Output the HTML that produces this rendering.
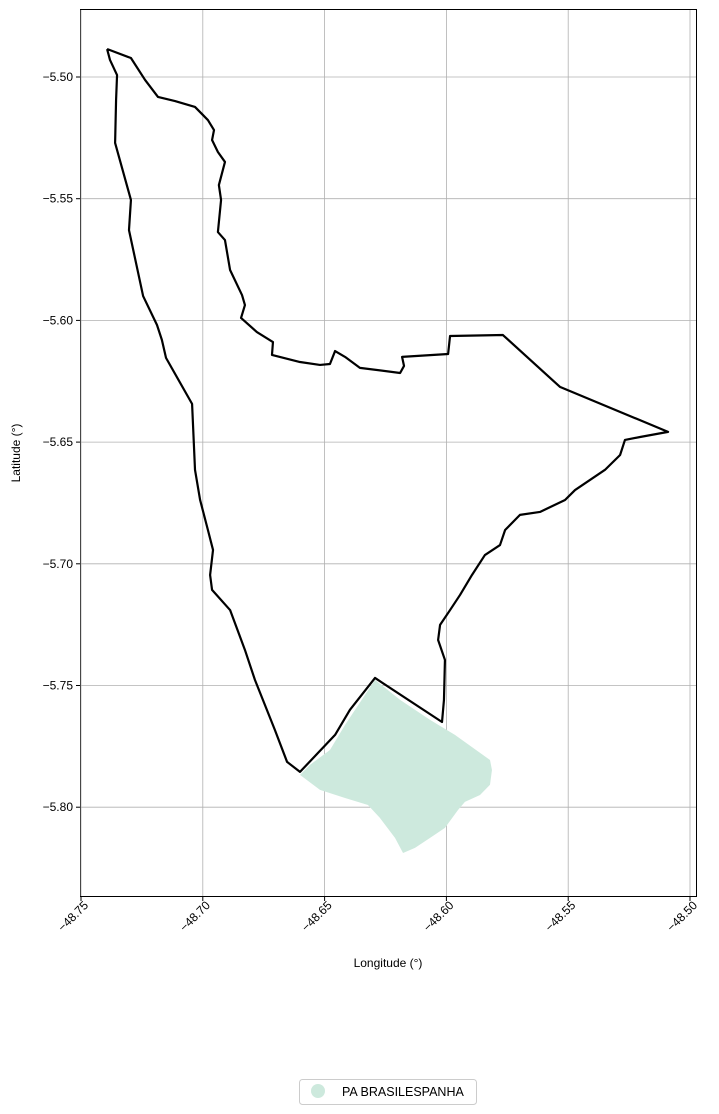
<!DOCTYPE html>
<html><head><meta charset="utf-8"><style>
body{margin:0;background:#fff;}
svg{display:block;font-family:"Liberation Sans",sans-serif;}
</style></head><body>
<svg id="chart" width="719" height="1114" viewBox="0 0 719 1114">
<rect x="80.5" y="9.5" width="616" height="887" fill="#fff" stroke="#000" stroke-width="1"/>
<g id="grid"></g>
<g id="shapes"></g>
<g id="ticks"></g>
<text x="388" y="967" font-size="12" text-anchor="middle">Longitude (°)</text>
<text transform="translate(20,453) rotate(-90)" font-size="12" text-anchor="middle">Latitude (°)</text>
<g>
<rect x="299.5" y="1079.5" width="177" height="25" rx="3" fill="#fff" stroke="#ccc"/>
<circle cx="318" cy="1091" r="7" fill="#cde9dd"/>
<text x="342" y="1096" font-size="12.5">PA BRASILESPANHA</text>
</g>
</svg>
<script>
const xTicks=[-48.75,-48.70,-48.65,-48.60,-48.55,-48.50];
const yTicks=[-5.50,-5.55,-5.60,-5.65,-5.70,-5.75,-5.80];
const outlineLon=[-48.7393,-48.7295,-48.7237,-48.7184,-48.7114,-48.7032,-48.6979,-48.6954,-48.6962,-48.6938,-48.6909,-48.6934,-48.6925,-48.6938,-48.6909,-48.6888,-48.6839,-48.6827,-48.6843,-48.6778,-48.6712,-48.6716,-48.6601,-48.6519,-48.6478,-48.6457,-48.6416,-48.6355,-48.6190,-48.6174,-48.6182,-48.5993,-48.5985,-48.5768,-48.5534,-48.5090,-48.5205,-48.5267,-48.5287,-48.5349,-48.5472,-48.5513,-48.5616,-48.5698,-48.5759,-48.5780,-48.5842,-48.5895,-48.5944,-48.5985,-48.6026,-48.6034,-48.6006,-48.6010,-48.6018,-48.6293,-48.6396,-48.6457,-48.6601,-48.6654,-48.6704,-48.6786,-48.6827,-48.6888,-48.6962,-48.6970,-48.6958,-48.6979,-48.7011,-48.7032,-48.7044,-48.7151,-48.7168,-48.7188,-48.7245,-48.7303,-48.7295,-48.7360,-48.7356,-48.7352,-48.7381,-48.7393];
const outlineLat=[-5.4885,-5.4922,-5.5012,-5.5082,-5.5099,-5.5123,-5.5177,-5.5218,-5.5259,-5.5308,-5.5349,-5.5444,-5.5505,-5.5637,-5.5670,-5.5793,-5.5896,-5.5937,-5.5990,-5.6048,-5.6089,-5.6142,-5.6171,-5.6183,-5.6179,-5.6126,-5.6150,-5.6195,-5.6216,-5.6187,-5.6150,-5.6138,-5.6064,-5.6060,-5.6273,-5.6458,-5.6479,-5.6491,-5.6553,-5.6614,-5.6697,-5.6738,-5.6787,-5.6799,-5.6861,-5.6923,-5.6964,-5.7046,-5.7128,-5.7190,-5.7251,-5.7313,-5.7395,-5.7559,-5.7650,-5.7469,-5.7600,-5.7703,-5.7855,-5.7814,-5.7683,-5.7477,-5.7354,-5.7190,-5.7107,-5.7046,-5.6943,-5.6861,-5.6738,-5.6614,-5.6343,-5.6154,-5.6080,-5.6019,-5.5900,-5.5629,-5.5505,-5.5271,-5.5094,-5.4992,-5.4930,-5.4885];
const areaLon=[-48.6601,-48.6519,-48.6416,-48.6322,-48.6273,-48.6211,-48.6178,-48.6129,-48.6067,-48.6006,-48.5952,-48.5924,-48.5862,-48.5821,-48.5813,-48.5821,-48.5965,-48.6067,-48.6190,-48.6293,-48.6416,-48.6478,-48.6560];
const areaLat=[-5.7867,-5.7929,-5.7962,-5.7991,-5.8044,-5.8126,-5.8188,-5.8167,-5.8126,-5.8085,-5.8011,-5.7978,-5.7950,-5.7908,-5.7847,-5.7806,-5.7703,-5.7641,-5.7559,-5.7477,-5.7662,-5.7765,-5.7826];
const NS='http://www.w3.org/2000/svg';
function xs(v){return 81+(v+48.75)/0.05*121.8;}
function ys(v){return 77+(-5.5-v)/0.05*121.7;}
const grid=document.getElementById('grid'),ticks=document.getElementById('ticks'),shapes=document.getElementById('shapes');
xTicks.forEach(t=>{
 const x=xs(t);
 const l=document.createElementNS(NS,'line');
 
 
 l.setAttribute('x1',x);l.setAttribute('x2',x);l.setAttribute('y1',10);l.setAttribute('y2',896);
 l.setAttribute('stroke','#b0b0b0');l.setAttribute('stroke-width','0.8');grid.appendChild(l);
 const tk=document.createElementNS(NS,'line');
 
 
 tk.setAttribute('x1',x);tk.setAttribute('x2',x);tk.setAttribute('y1',897);tk.setAttribute('y2',901);tk.setAttribute('stroke','#000');ticks.appendChild(tk);
 const tx=document.createElementNS(NS,'text');
 
 
 tx.setAttribute('font-size','12');tx.setAttribute('text-anchor','end');
 tx.setAttribute('transform','translate('+(x+8)+',906) rotate(-45)');
 tx.textContent='\u2212'+Math.abs(t).toFixed(2);ticks.appendChild(tx);
});
yTicks.forEach(t=>{
 const y=ys(t);
 const l=document.createElementNS(NS,'line');
 
 
 l.setAttribute('x1',81);l.setAttribute('x2',696);l.setAttribute('y1',y);l.setAttribute('y2',y);
 l.setAttribute('stroke','#b0b0b0');l.setAttribute('stroke-width','0.8');grid.appendChild(l);
 const tk=document.createElementNS(NS,'line');
 
 
 tk.setAttribute('x1',76);tk.setAttribute('x2',80);tk.setAttribute('y1',y);tk.setAttribute('y2',y);tk.setAttribute('stroke','#000');ticks.appendChild(tk);
 const tx=document.createElementNS(NS,'text');
 
 
 tx.setAttribute('font-size','12');tx.setAttribute('text-anchor','end');
 tx.setAttribute('x',73);tx.setAttribute('y',y+4);
 tx.textContent='\u2212'+Math.abs(t).toFixed(2);ticks.appendChild(tx);
});
const area=document.createElementNS(NS,'polygon');


area.setAttribute('points',areaLon.map((v,i)=>xs(v)+','+ys(areaLat[i])).join(' '));
area.setAttribute('fill','#cde9dd');shapes.appendChild(area);
const outline=document.createElementNS(NS,'polyline');


outline.setAttribute('points',outlineLon.map((v,i)=>xs(v)+','+ys(outlineLat[i])).join(' '));
outline.setAttribute('fill','none');outline.setAttribute('stroke','#000');outline.setAttribute('stroke-width','2.2');outline.setAttribute('stroke-linejoin','round');
shapes.appendChild(outline);
</script>
</body></html>
